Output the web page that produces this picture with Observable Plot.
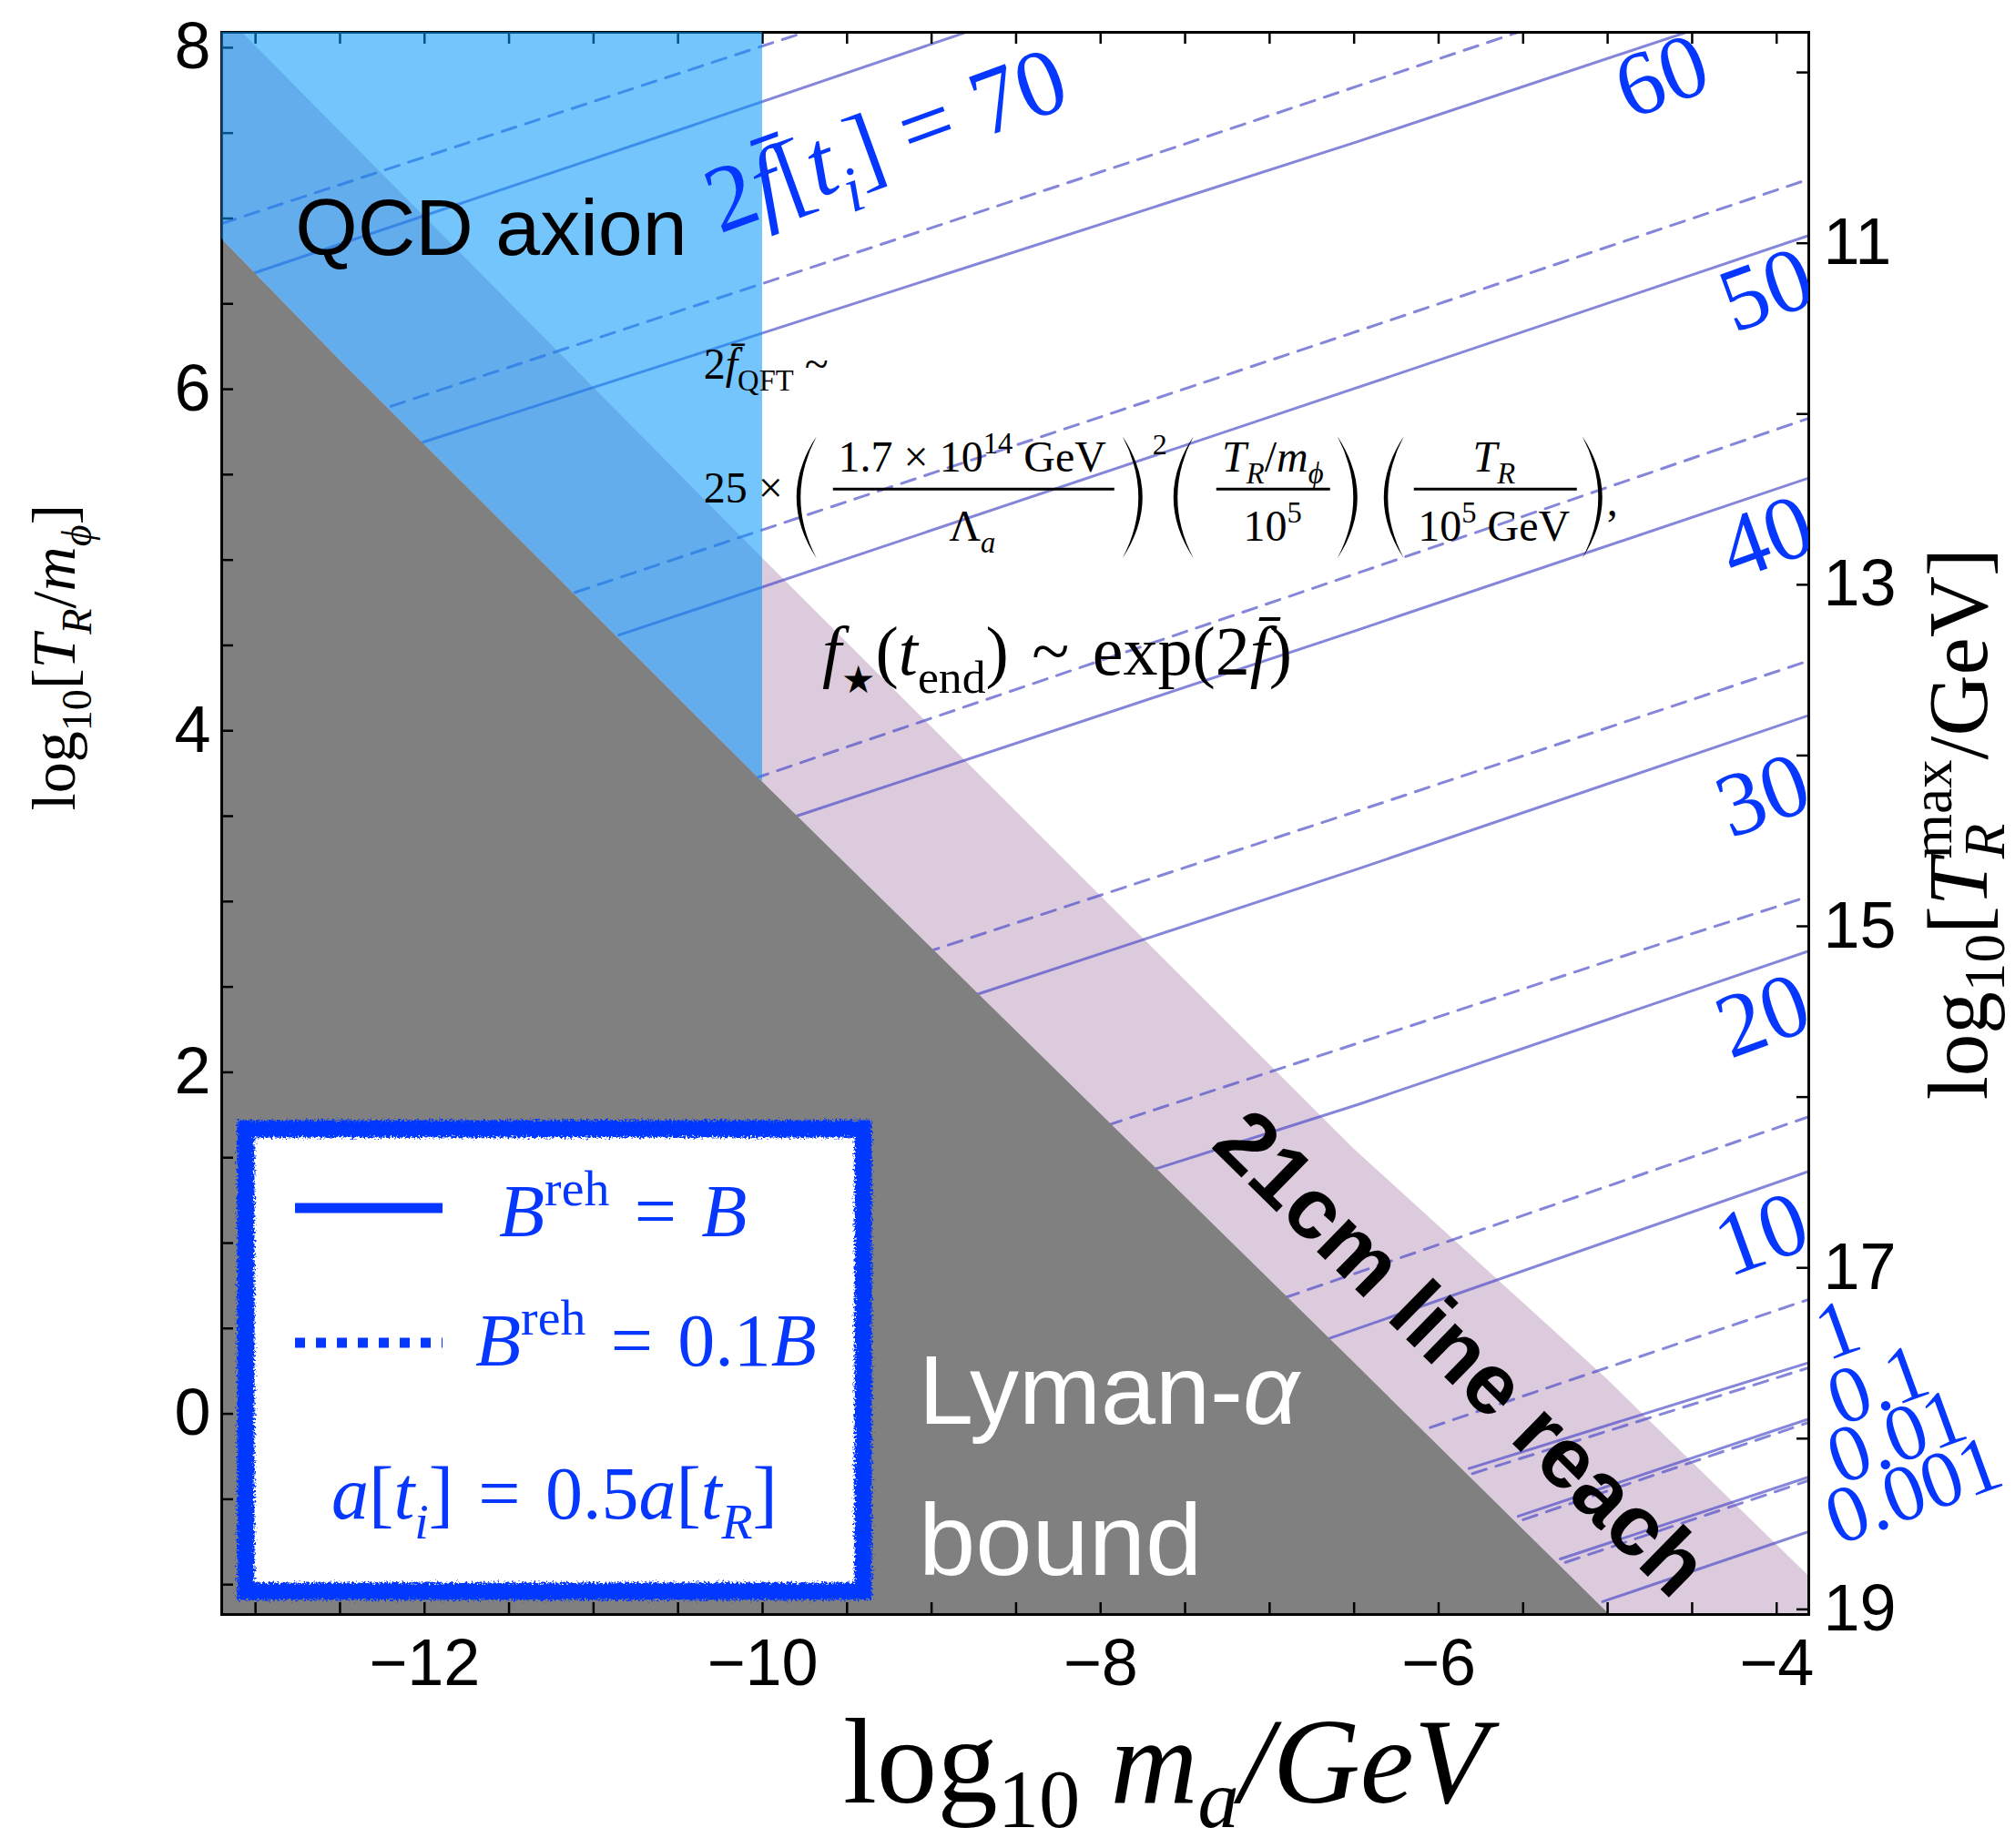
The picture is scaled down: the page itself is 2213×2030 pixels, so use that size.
<!DOCTYPE html>
<html>
<head>
<meta charset="utf-8">
<script src="https://cdn.jsdelivr.net/npm/d3@7"></script>
<script src="https://cdn.jsdelivr.net/npm/@observablehq/plot@0.6"></script>
<style>
  html, body { margin: 0; padding: 0; background: #fff; }
  #chart svg { display: block; }
</style>
</head>
<body>
<div id="chart"></div>
<script>
const serif = "'Liberation Serif', 'Times New Roman', 'DejaVu Serif', serif";
const sans = "'Liberation Sans', Arial, 'DejaVu Sans', sans-serif";
const blueText = "#0537ff";
const contourColor = "#4b4bc8";

// Axis domains: x = log10 m_a/GeV, y = log10[T_R/m_phi]
const xDomain = [-13.2, -3.81];
const yDomain = [-1.175, 8.09];
const xLabelTicks = [-12, -10, -8, -6, -4];
const xTicks = [-13, -12.5, -12, -11.5, -11, -10.5, -10, -9.5, -9, -8.5, -8, -7.5, -7, -6.5, -6, -5.5, -5, -4.5, -4];
const yLabelTicks = [0, 2, 4, 6, 8];
const yTicks = [-1, -0.5, 0, 0.5, 1, 1.5, 2, 2.5, 3, 3.5, 4, 4.5, 5, 5.5, 6, 6.5, 7, 7.5, 8];
// right axis: log10[T_R^max/GeV] = tMaxOffset - log10[T_R/m_phi]
const tMaxOffset = 17.855;
const tMaxTicks = [10, 11, 12, 13, 14, 15, 16, 17, 18, 19];
const tMaxLabels = [11, 13, 15, 17, 19];

// Region boundaries sampled at common x positions
const boundaryX = [-13.2, -12.48, -10, -6.5, -5.0, -3.81];
const lymanAlphaY = [6.88, 6.15, 3.70, 0.30, -1.165, -2.32];
const reach21cmY = [8.21, 7.49, 5.01, 1.55, 0.20, -0.95];
const qcdAxionMaxX = -10;

// Contours of 2f[t_i]: solid for B^reh = B, dashed for B^reh = 0.1B
const solid70 = [[-13.01, 6.68], [-10.31, 7.58], [-8.50, 8.19]];
const solid60 = [[-12.01, 5.69], [-10.31, 6.23], [-6.48, 7.45], [-4.20, 8.20]];
const solid50 = [[-10.85, 4.56], [-6.48, 6.01], [-3.81, 6.90]];
const solid40 = [[-9.80, 3.50], [-6.48, 4.59], [-3.81, 5.48]];
const solid30 = [[-8.75, 2.45], [-6.48, 3.19], [-3.81, 4.09]];
const solid20 = [[-7.72, 1.42], [-6.48, 1.81], [-3.81, 2.71]];
const solid10 = [[-6.68, 0.43], [-3.81, 1.42]];
const solid1 = [[-5.82, -0.32], [-3.81, 0.30]];
const solid01 = [[-5.53, -0.60], [-3.81, -0.03]];
const solid001 = [[-5.28, -0.85], [-3.81, -0.37]];
const solid0001 = [[-5.03, -1.10], [-3.81, -0.69]];

const dashed70 = [[-13.20, 6.97], [-10.00, 8.01], [-9.50, 8.17]];
const dashed60 = [[-12.20, 5.90], [-7.61, 7.40], [-5.20, 8.20]];
const dashed50 = [[-11.11, 4.81], [-6.48, 6.34], [-3.81, 7.23]];
const dashed40 = [[-10.05, 3.72], [-6.43, 4.94], [-3.81, 5.83]];
const dashed30 = [[-9.04, 2.70], [-6.45, 3.54], [-3.81, 4.41]];
const dashed20 = [[-7.96, 1.69], [-4.60, 2.78], [-3.81, 3.03]];
const dashed10 = [[-6.91, 0.68], [-3.81, 1.74]];
const dashed1 = [[-6.05, -0.08], [-3.81, 0.67]];
const dashed01 = [[-5.80, -0.35], [-3.81, 0.27]];
const dashed001 = [[-5.50, -0.62], [-3.81, -0.05]];
const dashed0001 = [[-5.25, -0.87], [-3.81, -0.39]];

// Contour labels
const bigLabelText = ["60", "50", "40", "30", "20", "10"];
const bigLabelX = [-4.68, -4.06, -4.06, -4.08, -4.08, -4.09];
const bigLabelY = [7.83, 6.58, 5.13, 3.62, 2.33, 1.05];
const smallLabelText = ["1", "0.1", "0.01", "0.001"];
const smallLabelX = [-3.64, -3.40, -3.29, -3.19];
const smallLabelY = [0.49, 0.168, -0.135, -0.45];

// ---- tables for the marks ----
const boundary = boundaryX.map((x, i) => ({x, lyman: lymanAlphaY[i], reach: reach21cmY[i]}));
const qcd = boundary.filter(d => d.x <= qcdAxionMaxX);
const toRows = list => list.flatMap(([level, pts]) => pts.map(([x, y]) => ({level, x, y})));
const solidRows = toRows([["70", solid70], ["60", solid60], ["50", solid50], ["40", solid40], ["30", solid30],
  ["20", solid20], ["10", solid10], ["1", solid1], ["0.1", solid01], ["0.01", solid001], ["0.001", solid0001]]);
const dashedRows = toRows([["70", dashed70], ["60", dashed60], ["50", dashed50], ["40", dashed40], ["30", dashed30],
  ["20", dashed20], ["10", dashed10], ["1", dashed1], ["0.1", dashed01], ["0.01", dashed001], ["0.001", dashed0001]]);
const bigLabels = bigLabelText.map((t, i) => ({t, x: bigLabelX[i], y: bigLabelY[i]}));
const smallLabels = smallLabelText.map((t, i) => ({t, x: smallLabelX[i], y: smallLabelY[i]}));

const W = 2213, H = 2030, mL = 243, mR = 227, mT = 35, mB = 257;
const tickPx = 13;
const tyLen = tickPx * (yDomain[1] - yDomain[0]) / (H - mT - mB);
const txLen = tickPx * (xDomain[1] - xDomain[0]) / (W - mL - mR);

const plot = Plot.plot({
  width: W, height: H,
  marginLeft: mL, marginRight: mR, marginTop: mT, marginBottom: mB,
  x: {domain: xDomain, axis: null},
  y: {domain: yDomain, axis: null},
  style: {background: "white", fontFamily: sans, overflow: "visible"},
  marks: [
    // 21cm line reach band
    Plot.areaY(boundary, {x: "x", y1: "lyman", y2: "reach", fill: "#dccbdd", clip: true}),
    // contour lines
    Plot.line(solidRows, {x: "x", y: "y", z: "level", stroke: contourColor, strokeOpacity: 0.68, strokeWidth: 3, clip: true}),
    Plot.line(dashedRows, {x: "x", y: "y", z: "level", stroke: contourColor, strokeOpacity: 0.68, strokeWidth: 3, strokeDasharray: "16,11", clip: true}),
    // Lyman-alpha excluded region
    Plot.areaY(boundary, {x: "x", y1: yDomain[0], y2: "lyman", fill: "#808080", clip: true}),
    // frame and inward ticks
    Plot.frame({stroke: "black", strokeWidth: 3}),
    Plot.ruleX(xTicks, {x: d => d, y1: yDomain[0], y2: yDomain[0] + tyLen, stroke: "black", strokeWidth: 2.5}),
    Plot.ruleX(xTicks, {x: d => d, y1: yDomain[1] - tyLen, y2: yDomain[1], stroke: "black", strokeWidth: 2.5}),
    Plot.ruleY(yTicks, {y: d => d, x1: xDomain[0], x2: xDomain[0] + txLen, stroke: "black", strokeWidth: 2.5}),
    Plot.ruleY(tMaxTicks, {y: k => tMaxOffset - k, x1: xDomain[1] - txLen, x2: xDomain[1], stroke: "black", strokeWidth: 2.5}),
    // QCD axion region (translucent)
    Plot.areaY(qcd, {x: "x", y1: "lyman", y2: yDomain[1], fill: "rgb(0,150,250)", fillOpacity: 0.55}),
    // tick labels
    Plot.text(xLabelTicks, {x: d => d, y: yDomain[0], text: d => "\u2212" + Math.abs(d), dy: 54, fontSize: 72, fontFamily: sans, lineAnchor: "middle"}),
    Plot.text(yLabelTicks, {x: xDomain[0], y: d => d, text: d => String(d), textAnchor: "end", dx: -12, fontSize: 72, fontFamily: sans, lineAnchor: "middle"}),
    Plot.text(tMaxLabels, {x: xDomain[1], y: k => tMaxOffset - k, text: d => String(d), textAnchor: "start", dx: 16, fontSize: 72, fontFamily: sans, lineAnchor: "middle"}),
    // contour labels
    Plot.text(bigLabels, {x: "x", y: "y", text: "t", rotate: -20, fontSize: 100, fill: blueText, fontFamily: serif, lineAnchor: "middle", clip: true}),
    Plot.text(smallLabels, {x: "x", y: "y", text: "t", rotate: -20, fontSize: 88, fill: blueText, fontFamily: serif, lineAnchor: "middle"}),
    // region names
    Plot.text([{x: -12.765, y: 6.787, t: "QCD axion"}], {x: "x", y: "y", text: "t", textAnchor: "start", lineAnchor: "bottom", fontSize: 88, fontFamily: sans, fill: "black"}),
    Plot.text([{x: -5.87, y: 0.35, t: "21cm line reach"}], {x: "x", y: "y", text: "t", rotate: 44.5, fontSize: 95, fontWeight: "bold", fontFamily: sans, fill: "black", lineAnchor: "middle"})
  ]
});
document.getElementById("chart").append(plot);

// ---- annotations with sub/superscripts, placed through the plot's scales ----
const sx = plot.scale("x"), sy = plot.scale("y");
const X = v => sx.apply(v), Y = v => sy.apply(v);
const svg = d3.select(plot);
const defs = svg.append("defs");
const rough = defs.append("filter").attr("id", "rough-border")
  .attr("x", "-5%").attr("y", "-5%").attr("width", "110%").attr("height", "110%");
rough.append("feTurbulence").attr("type", "fractalNoise").attr("baseFrequency", "0.45").attr("numOctaves", 2).attr("seed", 7).attr("result", "noise");
rough.append("feDisplacementMap").attr("in", "SourceGraphic").attr("in2", "noise").attr("scale", 10)
  .attr("xChannelSelector", "R").attr("yChannelSelector", "G");

const layer = svg.append("g").attr("class", "annotations");

function rich(parent, parts, {size, family = serif, fill = "black", anchor = "start", x = 0, y = 0, subShift = 0.27}) {
  const t = parent.append("text")
    .attr("x", x).attr("y", y)
    .attr("font-family", family).attr("font-size", size)
    .attr("fill", fill).attr("text-anchor", anchor);
  let shift = 0;
  for (const p of parts) {
    const target = p.sub ? subShift * size : p.sup ? -0.42 * size : 0;
    const ts = t.append("tspan").text(p.t)
      .attr("font-size", (p.sub || p.sup) ? size * (p.k || 0.68) : size * (p.k || 1))
      .attr("font-style", p.it ? "italic" : "normal");
    if (target !== shift) ts.attr("dy", target - shift);
    if (p.family) ts.attr("font-family", p.family);
    p.node = ts.node();
    shift = target;
  }
  return t;
}

function paren(parent, cx, top, bottom, open, w = 22, th = 4.5) {
  const s = open ? 1 : -1;
  const x0 = cx + s * w / 2;
  const c1 = cx - s * 1.5 * w;
  const c2 = c1 + s * 2 * th;
  const mid = (top + bottom) / 2;
  parent.append("path")
    .attr("d", `M${x0},${top} Q${c1},${mid} ${x0},${bottom} Q${c2},${mid} ${x0},${top} Z`)
    .attr("fill", "black");
}

const eq = "\u2004=\u2004";

// "2f[t_i] = 70" label along the top contour
{
  const g = layer.append("g").attr("transform", `translate(${X(-9.27)},${Y(7.46)}) rotate(-20)`);
  rich(g, [{t: "2"}, {t: "f\u0304", it: true}, {t: "["}, {t: "t", it: true}, {t: "i", it: true, sub: true}, {t: "] = 70"}],
    {size: 104, fill: blueText, anchor: "middle", y: 35});
}

// Estimate of 2f_QFT
{
  const ax = X(-10.346), ay = Y(5.332);
  const g = layer.append("g");
  rich(g, [{t: "2"}, {t: "f\u0304", it: true}, {t: "QFT", sub: true}, {t: " ~"}], {size: 48, x: ax, y: ay - 136});
  rich(g, [{t: "25 \u00d7"}], {size: 48, x: ax, y: ay});
  paren(g, ax + 113, ay - 73, ay + 61, true);
  rich(g, [{t: "1.7 \u00d7 10"}, {t: "14", sup: true}, {t: " GeV"}], {size: 48, x: ax + 295, y: ay - 34, anchor: "middle"});
  g.append("line").attr("x1", ax + 142).attr("x2", ax + 451).attr("y1", ay - 15).attr("y2", ay - 15).attr("stroke", "black").attr("stroke-width", 3);
  rich(g, [{t: "\u039b"}, {t: "a", it: true, sub: true}], {size: 48, x: ax + 295, y: ay + 42, anchor: "middle"});
  paren(g, ax + 471, ay - 73, ay + 61, false);
  rich(g, [{t: "2"}], {size: 32, x: ax + 493, y: ay - 53});
  paren(g, ax + 527, ay - 73, ay + 61, true);
  rich(g, [{t: "T", it: true}, {t: "R", it: true, sub: true}, {t: "/"}, {t: "m", it: true}, {t: "\u03d5", it: true, sub: true}], {size: 48, x: ax + 625, y: ay - 34, anchor: "middle"});
  g.append("line").attr("x1", ax + 563).attr("x2", ax + 688).attr("y1", ay - 15).attr("y2", ay - 15).attr("stroke", "black").attr("stroke-width", 3);
  rich(g, [{t: "10"}, {t: "5", sup: true}], {size: 48, x: ax + 625, y: ay + 42, anchor: "middle"});
  paren(g, ax + 707, ay - 73, ay + 61, false);
  paren(g, ax + 758, ay - 73, ay + 61, true);
  rich(g, [{t: "T", it: true}, {t: "R", it: true, sub: true}], {size: 48, x: ax + 868, y: ay - 34, anchor: "middle"});
  g.append("line").attr("x1", ax + 780).attr("x2", ax + 959).attr("y1", ay - 15).attr("y2", ay - 15).attr("stroke", "black").attr("stroke-width", 3);
  rich(g, [{t: "10"}, {t: "5", sup: true}, {t: " GeV"}], {size: 48, x: ax + 868, y: ay + 42, anchor: "middle"});
  paren(g, ax + 976, ay - 73, ay + 61, false);
  rich(g, [{t: ","}], {size: 48, x: ax + 992, y: ay + 14});
}

// f_star(t_end) ~ exp(2f)
rich(layer, [{t: "f", it: true}, {t: "\u2605", sub: true, k: 0.55, family: "'DejaVu Sans', sans-serif"}, {t: "("}, {t: "t", it: true}, {t: "end", sub: true},
  {t: ")\u2004~\u2004exp(2"}, {t: "f\u0304", it: true}, {t: ")"}], {size: 76, x: X(-9.645), y: Y(4.329)});

// Lyman-alpha bound
rich(layer, [{t: "Lyman-", family: sans}, {t: "\u03b1", it: true}], {size: 108, family: sans, fill: "white", x: X(-9.074), y: Y(-0.06)});
rich(layer, [{t: "bound", family: sans}], {size: 112, family: sans, fill: "white", x: X(-9.074), y: Y(-0.946)});

// Legend
{
  const g = layer.append("g");
  const bx = mL + 27, by = 1240, bw = 678, bh = 508;
  g.append("rect").attr("x", bx).attr("y", by).attr("width", bw).attr("height", bh).attr("fill", "white");
  g.append("rect").attr("x", bx).attr("y", by).attr("width", bw).attr("height", bh)
    .attr("fill", "none").attr("stroke", blueText).attr("stroke-width", 19).attr("filter", "url(#rough-border)");
  g.append("line").attr("x1", bx + 54).attr("x2", bx + 216).attr("y1", by + 87).attr("y2", by + 87)
    .attr("stroke", blueText).attr("stroke-width", 11);
  g.append("line").attr("x1", bx + 54).attr("x2", bx + 216).attr("y1", by + 235).attr("y2", by + 235)
    .attr("stroke", blueText).attr("stroke-width", 11).attr("stroke-dasharray", "11,12");
  rich(g, [{t: "B", it: true}, {t: "reh", sup: true}, {t: eq}, {t: "B", it: true}], {size: 82, fill: blueText, x: bx + 278, y: by + 118});
  rich(g, [{t: "B", it: true}, {t: "reh", sup: true}, {t: eq + "0.1"}, {t: "B", it: true}], {size: 82, fill: blueText, x: bx + 252, y: by + 260});
  rich(g, [{t: "a", it: true}, {t: "["}, {t: "t", it: true}, {t: "i", it: true, sub: true}, {t: "]" + eq + "0.5"}, {t: "a", it: true}, {t: "["},
    {t: "t", it: true}, {t: "R", it: true, sub: true}, {t: "]"}], {size: 82, fill: blueText, x: bx + 339, y: by + 428, anchor: "middle"});
}

// Axis titles
rich(layer, [{t: "log"}, {t: "10", sub: true}, {t: " "}, {t: "m", it: true}, {t: "a", it: true, sub: true}, {t: "/GeV", it: true}],
  {size: 133, x: 1280, y: 1980, anchor: "middle", subShift: 0.2});
{
  const g = layer.append("g").attr("transform", "translate(64,722) rotate(-90)");
  rich(g, [{t: "log"}, {t: "10", sub: true}, {t: "["}, {t: "T", it: true}, {t: "R", it: true, sub: true}, {t: "/"}, {t: "m", it: true},
    {t: "\u03d5", it: true, sub: true}, {t: "]"}], {size: 68, anchor: "middle", y: 18});
}
{
  const g = layer.append("g").attr("transform", "translate(2156,905) rotate(-90)");
  const parts = [{t: "log"}, {t: "10", sub: true}, {t: "["}, {t: "T", it: true}, {t: "max", sup: true}, {t: "R", it: true, sub: true}, {t: "/GeV]"}];
  rich(g, parts, {size: 93, anchor: "middle", y: 26, subShift: 0.2});
  // stack the R subscript under "max"
  const wMax = parts[4].node.getComputedTextLength();
  const wR = parts[5].node.getComputedTextLength();
  d3.select(parts[5].node).attr("dx", -wMax);
  d3.select(parts[6].node).attr("dx", wMax - wR);
}
</script>
</body>
</html>
